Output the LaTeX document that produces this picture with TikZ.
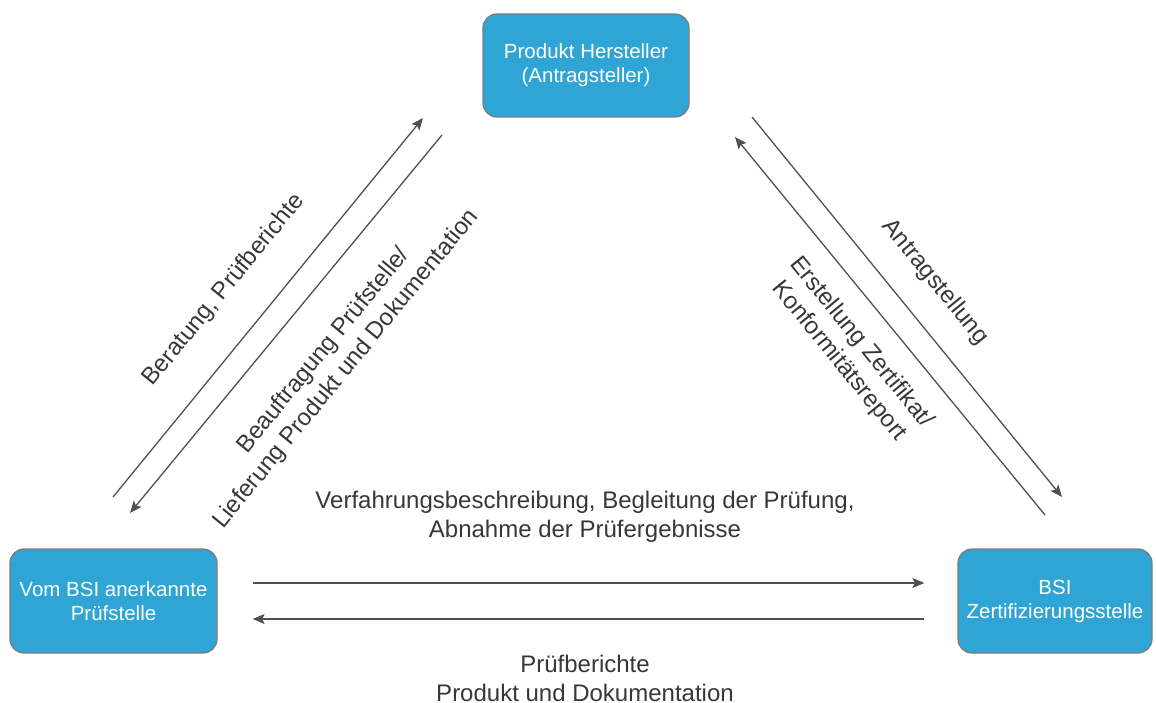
\documentclass[tikz,border=0pt]{standalone}
\usepackage{fontspec}
\setmainfont{Liberation Sans}
\usepackage{xcolor}
\usetikzlibrary{arrows.meta,positioning,calc}
\definecolor{stelleblue}{RGB}{46,165,212}
\definecolor{stellegray}{RGB}{125,125,125}
\definecolor{flowgray}{RGB}{80,80,80}
\definecolor{textgray}{RGB}{55,55,55}
\tikzset{
    >={Stealth[length=12pt,width=10pt,inset=2.5pt]},
    stelle/.style={
        rectangle,
        rounded corners=14pt,
        fill=stelleblue,
        draw=stellegray, line width=1.3pt,
        text=white,
        align=center,
        font={\fontsize{20.5pt}{24pt}\selectfont}
    },
    flow/.style={draw=flowgray, line width=1.3pt, ->},
    flowtext/.style={
        text=textgray,
        align=center,
        inner sep=0pt,
        font={\fontsize{24pt}{29pt}\selectfont}
    },
}

\begin{document}
\begin{tikzpicture}[x=1pt,y=-1pt]
        \useasboundingbox (0,0) rectangle (1156,703);

        % The three parties
        \node[stelle, minimum width=206pt, minimum height=103pt] (hersteller) at (586,65.5) {Produkt Hersteller\\(Antragsteller)};
        \node[stelle, minimum width=207pt, minimum height=104pt] (pruefstelle) at (113.5,601) {Vom BSI anerkannte\\Prüfstelle};
        \node[stelle, minimum width=194pt, minimum height=104pt] (zertstelle) at (1055,601) {BSI\\Zertifizierungsstelle};

        % Free ends of the slanted arrows
        \coordinate (hp1) at (113,497);
        \coordinate (hp2) at (423,118);
        \coordinate (hp3) at (442,135);
        \coordinate (hp4) at (130,513);
        \coordinate (hz1) at (752,117);
        \coordinate (hz2) at (1062,497);
        \coordinate (hz3) at (1045,515);
        \coordinate (hz4) at (735,137);

        \draw[flow] (hp1) -- (hp2);
        \draw[flow] (hp3) -- (hp4);
        \draw[flow] (hz1) -- (hz2);
        \draw[flow] (hz3) -- (hz4);

        \draw[flow, shorten <=35pt, shorten >=33pt] ([yshift=18pt]pruefstelle.east) -- ([yshift=18pt]zertstelle.west);
        \draw[flow, shorten <=33pt, shorten >=35pt] ([yshift=-18pt]zertstelle.west) -- ([yshift=-18pt]pruefstelle.east);

        % Labels
        \node[flowtext, rotate=50.7] (beratung) at (224,290) {Beratung, Prüfberichte};
        \node[flowtext, rotate=50.7] (beauftragung) at (335,360) {Beauftragung Prüfstelle/\\Lieferung Produkt und Dokumentation};
        \node[flowtext, rotate=-50.8] (antrag) at (935,282) {Antragstellung};
        \node[flowtext, rotate=-50.8] (erstellung) at (850,352) {Erstellung Zertifikat/\\Konformitätsreport};
        \node[flowtext] (verfahren) at (585,517) {Verfahrungsbeschreibung, Begleitung der Prüfung,\\Abnahme der Prüfergebnisse};
        \node[flowtext] (berichte) at (585,678) {Prüfberichte\\Produkt und Dokumentation};

\end{tikzpicture}
\end{document}
